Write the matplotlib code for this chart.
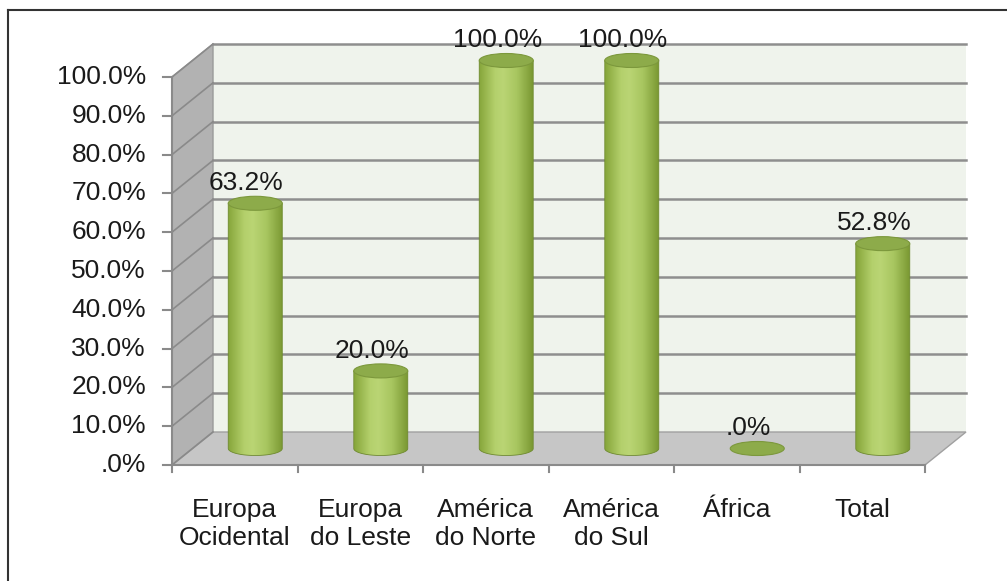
import matplotlib
matplotlib.use('Agg')
import matplotlib.pyplot as plt
import numpy as np
from matplotlib.patches import Polygon, Ellipse, PathPatch
from matplotlib.path import Path
from matplotlib.colors import LinearSegmentedColormap

# data
categories = ['Europa\nOcidental', 'Europa\ndo Leste', 'América\ndo Norte',
              'América\ndo Sul', 'África', 'Total']
values = [63.2, 20.0, 100.0, 100.0, 0.0, 52.8]
value_labels = ['63.2%', '20.0%', '100.0%', '100.0%', '.0%', '52.8%']
y_ticks = [0, 10, 20, 30, 40, 50, 60, 70, 80, 90, 100]
y_tick_labels = ['.0%', '10.0%', '20.0%', '30.0%', '40.0%', '50.0%',
                 '60.0%', '70.0%', '80.0%', '90.0%', '100.0%']

plt.rcParams['font.family'] = ['Liberation Sans', 'DejaVu Sans']

W, H = 1007, 581
fig = plt.figure(figsize=(W / 100, H / 100), dpi=100)
ax = fig.add_axes([0, 0, 1, 1])

# pixel mapping: front plane x=0 at px 172, 125.5 px per category; y=0 at px 465 (from top), 3.88 px per %
px_x0, px_per_cat = 172, 125.5
px_y0, px_per_pct = 465, 3.88
ax.set_xlim(-px_x0 / px_per_cat, (W - px_x0) / px_per_cat)
ax.set_ylim(-(H - px_y0) / px_per_pct, px_y0 / px_per_pct)
ax.axis('off')

n = len(categories)
DX = 41 / px_per_cat   # depth offset
DY = 33 / px_per_pct
ymax = 100
fs = 19

# outer border (left & top)
fig.add_artist(plt.Line2D([8 / W, 8 / W], [0, 1 - 10 / H], color='#333333', lw=1.5))
fig.add_artist(plt.Line2D([8 / W, 1], [1 - 10 / H, 1 - 10 / H], color='#333333', lw=1.5))

# back wall
ax.add_patch(Polygon([(DX, DY), (n + DX, DY), (n + DX, ymax + DY), (DX, ymax + DY)],
                     closed=True, facecolor='#EFF3EC', edgecolor='none', zorder=1))
# left wall
ax.add_patch(Polygon([(0, 0), (DX, DY), (DX, ymax + DY), (0, ymax)],
                     closed=True, facecolor='#B2B2B2', edgecolor='#9A9A9A', lw=1, zorder=1))
# floor
ax.add_patch(Polygon([(0, 0), (n, 0), (n + DX, DY), (DX, DY)],
                     closed=True, facecolor='#C6C6C6', edgecolor='#A0A0A0', lw=1, zorder=1))

# gridlines
for t in y_ticks:
    if t > 0:
        ax.plot([DX, n + DX], [t + DY, t + DY], color='#8E8E8E', lw=1.8, zorder=2)
    ax.plot([0, DX], [t, t + DY], color='#8A8A8A', lw=1.2, zorder=2)
    ax.plot([-0.07, 0], [t, t], color='#8A8A8A', lw=1.5, zorder=2)

# axis lines
ax.plot([0, 0], [0, ymax], color='#8A8A8A', lw=1.5, zorder=2)
ax.plot([0, n], [0, 0], color='#8A8A8A', lw=1.5, zorder=2)
for i in range(n + 1):
    ax.plot([i, i], [0, -1.8], color='#8A8A8A', lw=1.5, zorder=2)

# y tick labels
for t, lab in zip(y_ticks, y_tick_labels):
    ax.text(-0.207, t, lab, ha='right', va='center', fontsize=fs, color='#1A1A1A')

# category labels
for i, lab in enumerate(categories):
    ax.text(i + 0.5, -8.6, lab, ha='center', va='top', fontsize=fs,
            color='#1A1A1A', linespacing=1.2)

# cylinders
cmap = LinearSegmentedColormap.from_list('cyl', [
    (0.0, '#86A53A'), (0.3, '#B4D06C'), (0.45, '#BAD574'),
    (0.7, '#A8C660'), (1.0, '#7A9832')])
grad = np.linspace(0, 1, 256).reshape(1, -1)
cw = 54 / px_per_cat
eh = 14 / px_per_pct
for i, (v, vl) in enumerate(zip(values, value_labels)):
    cx = i + 0.5 + DX / 2
    base = DY / 2
    top = v + base
    if v > 0:
        t = np.linspace(np.pi, 2 * np.pi, 60)
        pts = [(cx - cw / 2, top), (cx - cw / 2, base)]
        pts += list(zip(cx + cw / 2 * np.cos(t), base + eh / 2 * np.sin(t)))
        pts += [(cx + cw / 2, top), (cx - cw / 2, top)]
        path = Path(pts)
        clip = PathPatch(path, facecolor='none', edgecolor='#6E8A2E', lw=0.6, zorder=4)
        ax.add_patch(clip)
        im = ax.imshow(grad, cmap=cmap, aspect='auto', zorder=3,
                       extent=[cx - cw / 2, cx + cw / 2, base - eh / 2, top],
                       interpolation='bilinear')
        im.set_clip_path(clip)
    ax.add_patch(Ellipse((cx, top), cw, eh, angle=0, facecolor='#8DAB4A',
                         edgecolor='#7C983C', lw=0.8, zorder=5))
    ax.text(cx - 0.07, top + 5.2, vl, ha='center', va='center', fontsize=fs,
            color='#1A1A1A', zorder=6)

fig.savefig('out.png', dpi=100)
